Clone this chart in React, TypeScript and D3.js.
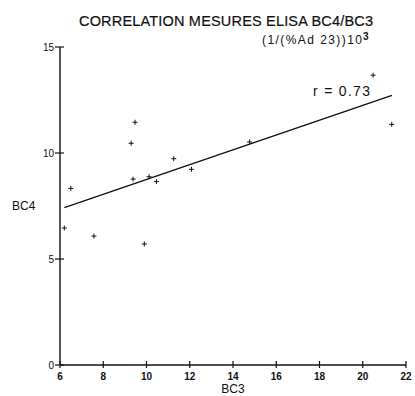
import React from "react";
import * as d3 from "d3";

const bc3 = [6.2, 6.5, 7.57, 9.29, 9.38, 9.47, 9.9, 10.12, 10.46, 11.26, 12.08, 14.77, 20.48, 21.34];
const bc4 = [6.46, 8.33, 6.08, 10.46, 8.77, 11.45, 5.71, 8.88, 8.65, 9.73, 9.23, 10.52, 13.67, 11.35];
const fitX = [6.2, 21.35];
const fitY = [7.42, 12.72];
const xTicks = [6, 8, 10, 12, 14, 16, 18, 20, 22];
const yTicks = [0, 5, 10, 15];
const title = "CORRELATION MESURES ELISA BC4/BC3";
const rLabel = "r = 0.73";

export default function App() {
  const W = 415, H = 396;
  const x = d3.scaleLinear().domain([6, 22]).range([60, 406]);
  const y = d3.scaleLinear().domain([0, 15]).range([365, 47]);
  const line = d3.line<number>().x((_, i) => x(fitX[i])).y((d) => y(d));
  const font = "'Liberation Sans', Arial, sans-serif";
  const ink = "#111";
  return (
    <div style={{ position: "absolute", left: 0, top: 0 }}>
      <svg width={W} height={H} style={{ display: "block", background: "#fff" }}>
        <text x={79} y={26} fontFamily={font} fontSize={14.5} fill={ink} stroke={ink} strokeWidth={0.2} textLength={294} lengthAdjust="spacing">
          {title}
        </text>
        <text x={262} y={44} fontFamily={font} fontSize={12} fill={ink} textLength={100} lengthAdjust="spacing">
          (1/(%Ad 23))10
        </text>
        <text x={363} y={40} fontFamily={font} fontSize={10} fontWeight="bold" fill={ink}>3</text>
        {/* axes */}
        <line x1={x(6)} x2={x(6)} y1={y(15)} y2={y(0)} stroke={ink} strokeWidth={1.4} />
        <line x1={x(6)} x2={x(22)} y1={y(0)} y2={y(0)} stroke={ink} strokeWidth={1.4} />
        {yTicks.map((t) => (
          <g key={"y" + t}>
            <line x1={x(6) - 5} x2={x(6) + 4} y1={y(t)} y2={y(t)} stroke={ink} strokeWidth={1.2} />
            <text x={x(6) - 6} y={y(t)} dy="0.35em" textAnchor="end" fontFamily={font} fontSize={10} fill={ink}>
              {t}
            </text>
          </g>
        ))}
        {xTicks.map((t) => (
          <g key={"x" + t}>
            <line x1={x(t)} x2={x(t)} y1={y(0) - 4} y2={y(0) + 3} stroke={ink} strokeWidth={1.2} />
            <text x={x(t)} y={y(0) + 15} textAnchor="middle" fontFamily={font} fontSize={10} fontWeight="bold" fill={ink}>
              {t}
            </text>
          </g>
        ))}
        <text x={233} y={393} textAnchor="middle" fontFamily={font} fontSize={12} fill={ink}>BC3</text>
        <text x={12} y={210} fontFamily={font} fontSize={12} fill={ink}>BC4</text>
        {/* regression */}
        <path d={line(fitY) || ""} fill="none" stroke={ink} strokeWidth={1.4} />
        <text x={313} y={96} fontFamily={font} fontSize={14} fill={ink} textLength={57} lengthAdjust="spacing">{rLabel}</text>
        {/* points */}
        {bc3.map((v, i) => (
          <g key={"p" + i} stroke={ink} strokeWidth={1}>
            <line x1={x(v) - 2.5} x2={x(v) + 2.5} y1={y(bc4[i])} y2={y(bc4[i])} />
            <line x1={x(v)} x2={x(v)} y1={y(bc4[i]) - 2.5} y2={y(bc4[i]) + 2.5} />
          </g>
        ))}
      </svg>
    </div>
  );
}
